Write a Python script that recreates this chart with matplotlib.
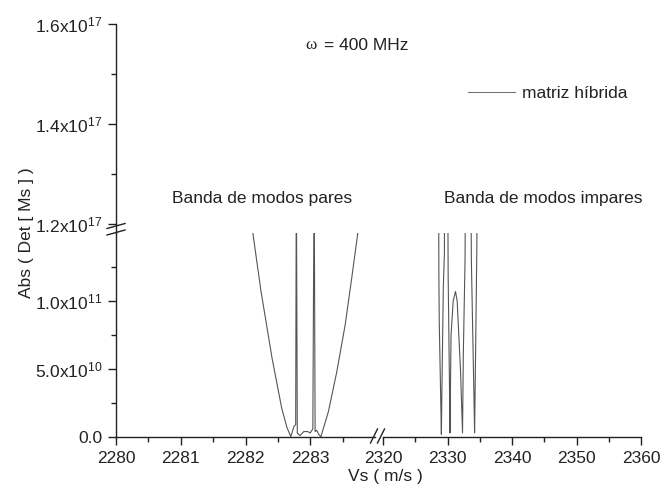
import numpy as np
import matplotlib
matplotlib.use("Agg")
import matplotlib.pyplot as plt
from matplotlib.ticker import MultipleLocator, FixedLocator, FuncFormatter
from matplotlib.lines import Line2D

plt.rcParams["font.family"] = ["Liberation Sans", "DejaVu Sans"]
plt.rcParams["mathtext.fontset"] = "custom"
plt.rcParams["mathtext.rm"] = "Liberation Sans"
plt.rcParams["mathtext.default"] = "regular"
plt.rcParams["font.size"] = 12.5

# band of even modes (left x segment)
vs_pares = [2282.09, 2282.122, 2282.24, 2282.41, 2282.56, 2282.64, 2282.70,
            2282.75, 2282.775, 2282.785, 2282.80, 2282.84, 2282.90, 2282.96,
            2283.00, 2283.04, 2283.06, 2283.075, 2283.10, 2283.13, 2283.164,
            2283.28, 2283.41, 2283.54, 2283.64, 2283.73, 2283.75]
det_pares = [1.6e11, 1.47e11, 1.07e11, 5.8e10, 2.1e10, 7e9, 3e8,
             8e9, 9e9, 2e11, 3e9, 1e9, 4e9, 4e9,
             3e9, 6e9, 2e11, 4e9, 5e9, 2e9, 2e8,
             1.86e10, 4.8e10, 8.27e10, 1.167e11, 1.485e11, 1.6e11]

# band of odd modes (right x segment)
vs_impares = [2328.62, 2328.66, 2328.72, 2328.98, 2329.05, 2329.12, 2329.35,
              2329.52, 2329.56, 2329.80, 2330.03, 2330.10, 2330.30, 2330.38,
              2330.55, 2330.88, 2331.24, 2331.50, 2331.75, 2332.01, 2332.33,
              2332.45, 2332.72, 2332.80, 2333.20, 2333.62, 2333.70, 2334.10,
              2334.20, 2334.35, 2334.55, 2334.60]
det_impares = [2.0e11, 1.2e11, 8.5e10, 2.0e10, 2e9, 3e10, 1.1e11,
               1.35e11, 2.0e11, 5e11, 2.0e11, 1.2e11, 4e10, 3e9,
               7.5e10, 1.0e11, 1.07e11, 1.0e11, 7.5e10, 5e10, 3e9,
               6e10, 1.3e11, 2.0e11, 5e11, 2.0e11, 1.3e11, 3e10,
               3e9, 6e10, 1.4e11, 2.0e11]

W, H = 662, 494
fig = plt.figure(figsize=(W / 100, H / 100), dpi=100)


def box(x0, y0, x1, y1):
    return [x0 / W, 1 - y1 / H, (x1 - x0) / W, (y1 - y0) / H]


def fx(x):
    return x / W


def fy(y):
    return 1 - y / H


def sci(v, pos):
    if v == 0:
        return "0.0"
    e = int(np.floor(np.log10(abs(v)) + 1e-9))
    m = v / 10 ** e
    return rf"{m:.1f}x10$^{{{e}}}$"


ax_top = fig.add_axes(box(116, 24, 641, 224))
ax_l = fig.add_axes(box(116, 233, 375, 437))
ax_r = fig.add_axes(box(383, 233, 641, 437))

line_kw = dict(color="#555555", lw=0.8)
ax_l.plot(vs_pares, det_pares, **line_kw)
ax_r.plot(vs_impares, det_impares, **line_kw)

spine_c = "#222222"
tick_kw = dict(direction="out", color=spine_c, labelcolor="#222222", width=1.0)

for ax in (ax_top, ax_l, ax_r):
    ax.set_facecolor("none")
    for s in ax.spines.values():
        s.set_visible(False)
        s.set_color(spine_c)
        s.set_linewidth(1.0)

# upper y segment
ax_top.set_ylim(1.2e17, 1.6e17)
ax_top.spines["left"].set_visible(True)
ax_top.set_xticks([])
ax_top.yaxis.set_major_locator(MultipleLocator(2e16))
ax_top.yaxis.set_minor_locator(MultipleLocator(1e16))
ax_top.yaxis.set_major_formatter(FuncFormatter(sci))
ax_top.tick_params(axis="y", which="major", length=6, pad=4, **tick_kw)
ax_top.tick_params(axis="y", which="minor", length=3.3, **tick_kw)
ax_top.yaxis.get_major_ticks()[0].tick1line.set_visible(False)

# lower left segment
ax_l.set_xlim(2280, 2284)
ax_l.set_ylim(0, 1.5e11)
ax_l.spines["left"].set_visible(True)
ax_l.spines["bottom"].set_visible(True)
ax_l.xaxis.set_major_locator(FixedLocator([2280, 2281, 2282, 2283]))
ax_l.xaxis.set_minor_locator(FixedLocator([2280.5, 2281.5, 2282.5, 2283.5]))
ax_l.yaxis.set_major_locator(FixedLocator([0, 5e10, 1e11]))
ax_l.yaxis.set_minor_locator(FixedLocator([2.5e10, 7.5e10, 1.25e11]))
ax_l.yaxis.set_major_formatter(FuncFormatter(sci))
ax_l.tick_params(which="major", length=6, pad=4, **tick_kw)
ax_l.tick_params(which="minor", length=3.3, **tick_kw)

# lower right segment
ax_r.set_xlim(2320, 2360)
ax_r.set_ylim(0, 1.5e11)
ax_r.spines["bottom"].set_visible(True)
ax_r.set_yticks([])
ax_r.xaxis.set_major_locator(MultipleLocator(10))
ax_r.xaxis.set_minor_locator(MultipleLocator(5))
ax_r.tick_params(axis="x", which="major", length=6, pad=4, **tick_kw)
ax_r.tick_params(axis="x", which="minor", length=3.3, **tick_kw)

# axis break marks
fig.add_artist(Line2D([fx(116), fx(116)], [fy(224), fy(233)], color=spine_c, lw=1.0))
for yc in (226, 232.5):
    fig.add_artist(Line2D([fx(107), fx(125)], [fy(yc + 2.5), fy(yc - 2.5)],
                          color=spine_c, lw=1.0))
for xc in (374, 381):
    fig.add_artist(Line2D([fx(xc - 3.5), fx(xc + 3.5)], [fy(443), fy(429)],
                          color=spine_c, lw=1.0))

# labels and annotations
txt_c = "#222222"
fig.text(fx(26), fy(233), "Abs ( Det [ Ms ] )", rotation=90,
         ha="center", va="center", color=txt_c)
fig.text(fx(385), fy(476), "Vs ( m/s )", ha="center", va="center", color=txt_c)
fig.text(fx(305), fy(45), "ω", family="Liberation Serif", ha="left",
         va="center", color=txt_c)
fig.text(fx(408), fy(45), "= 400 MHz", ha="right", va="center", color=txt_c)
fig.text(fx(262), fy(198), "Banda de modos pares", ha="center", va="center",
         color=txt_c)
fig.text(fx(543), fy(198), "Banda de modos impares", ha="center", va="center",
         color=txt_c)

handle = Line2D([], [], color="#777777", lw=0.8, label="matriz híbrida")
fig.legend(handles=[handle], loc="center left",
           bbox_to_anchor=(fx(468), fy(93)), frameon=False, borderpad=0,
           borderaxespad=0, handlelength=2.7, handletextpad=0.4,
           labelcolor=txt_c)

fig.savefig("out.png", dpi=100, facecolor="white")
